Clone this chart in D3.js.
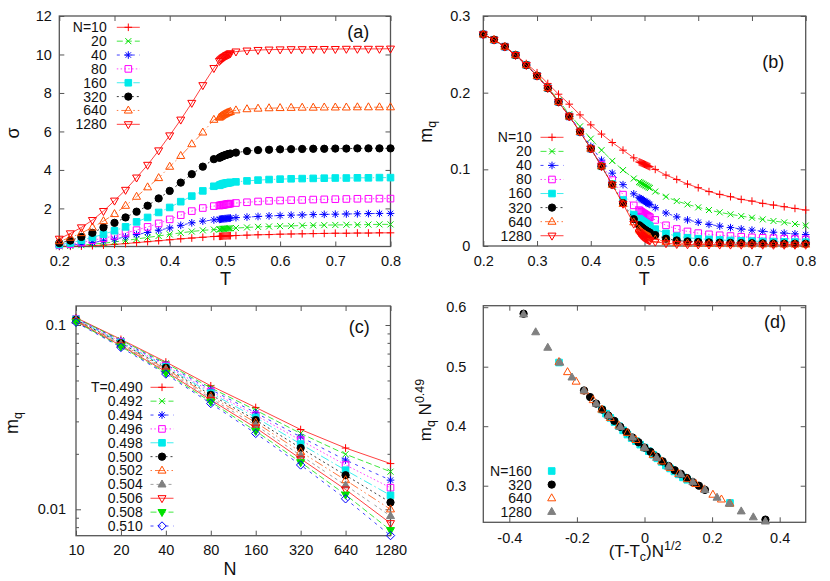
<!DOCTYPE html>
<html>
<head>
<meta charset="utf-8">
<script src="https://cdn.jsdelivr.net/npm/d3@7"></script>
<style>
  body { margin: 0; background: #fff; }
  svg { font-family: "Liberation Sans", Arial, sans-serif; }
</style>
</head>
<body>
<svg id="fig" width="830" height="581"></svg>
<script>

// ---- data ----
const sizesN = [10, 20, 40, 80, 160, 320, 640, 1280];

const tempsLow = [0.20, 0.22, 0.24, 0.26, 0.28, 0.30, 0.32, 0.34, 0.36, 0.38, 0.40, 0.42, 0.44, 0.46, 0.48];
const tempsDense = [0.490, 0.492, 0.494, 0.496, 0.498, 0.500, 0.502, 0.504, 0.506, 0.508, 0.510];
const tempsHigh = [0.52, 0.54, 0.56, 0.58, 0.60, 0.62, 0.64, 0.66, 0.68, 0.70, 0.72, 0.74, 0.76, 0.78, 0.80];

// (a) sigma, on tempsLow + tempsDense + tempsHigh
const sigma10 = [0.02,0.03,0.04,0.06,0.09,0.13,0.17,0.22,0.27,0.32,0.37,0.42,0.46,0.50,0.54, 0.55,0.55,0.56,0.56,0.57,0.57,0.57,0.58,0.58,0.58,0.58, 0.59,0.61,0.63,0.64,0.66,0.67,0.68,0.69,0.70,0.71,0.71,0.72,0.72,0.73,0.73];
const sigma20 = [0.03,0.05,0.09,0.14,0.19,0.26,0.33,0.41,0.49,0.57,0.65,0.73,0.80,0.86,0.90, 0.91,0.92,0.93,0.94,0.94,0.95,0.95,0.96,0.96,0.97,0.97, 0.98,1.01,1.04,1.06,1.08,1.09,1.11,1.12,1.13,1.14,1.15,1.15,1.16,1.17,1.17];
const sigma40 = [0.05,0.09,0.14,0.23,0.31,0.40,0.52,0.64,0.75,0.87,0.98,1.12,1.25,1.34,1.40, 1.43,1.44,1.45,1.46,1.46,1.47,1.47,1.48,1.49,1.49,1.50, 1.52,1.55,1.58,1.61,1.63,1.65,1.66,1.68,1.69,1.70,1.71,1.72,1.73,1.74,1.74];
const sigma80 = [0.09,0.14,0.23,0.35,0.45,0.57,0.73,0.87,1.04,1.22,1.43,1.65,1.86,2.02,2.12, 2.15,2.16,2.17,2.18,2.19,2.20,2.21,2.22,2.23,2.24,2.25, 2.28,2.32,2.36,2.39,2.41,2.43,2.44,2.46,2.47,2.48,2.49,2.50,2.50,2.51,2.51];
const sigma160 = [0.12,0.20,0.35,0.49,0.66,0.84,1.04,1.30,1.53,1.79,2.05,2.35,2.64,2.91,3.15, 3.20,3.23,3.25,3.27,3.29,3.30,3.31,3.32,3.33,3.34,3.35, 3.38,3.43,3.47,3.50,3.52,3.54,3.55,3.56,3.57,3.58,3.58,3.59,3.59,3.60,3.60];
const sigma320 = [0.20,0.33,0.52,0.73,1.01,1.25,1.53,1.83,2.14,2.52,2.91,3.34,3.78,4.17,4.56, 4.63,4.66,4.69,4.72,4.74,4.76,4.78,4.80,4.82,4.83,4.85, 4.90,4.98,5.03,5.05,5.07,5.08,5.09,5.10,5.10,5.11,5.11,5.12,5.12,5.12,5.12];
const sigma640 = [0.30,0.48,0.72,1.01,1.34,1.71,2.14,2.61,3.10,3.58,4.17,4.73,5.34,5.95,6.61, 6.72,6.76,6.80,6.84,6.87,6.90,6.93,6.96,6.98,7.00,7.02, 7.10,7.16,7.19,7.21,7.22,7.23,7.24,7.24,7.25,7.25,7.25,7.26,7.26,7.26,7.26];
const sigma1280 = [0.42,0.70,1.01,1.39,1.86,2.40,2.96,3.60,4.26,5.01,5.79,6.61,7.48,8.40,9.29, 9.66,9.72,9.77,9.82,9.86,9.90,9.94,9.97,10.00,10.03,10.06, 10.15,10.20,10.23,10.25,10.26,10.27,10.27,10.28,10.28,10.28,10.29,10.29,10.29,10.29,10.30];

// (b) m_q away from Tc (tempsLow / tempsHigh); near Tc taken from panel (c)
const mqLow10 = [0.276,0.269,0.260,0.249,0.238,0.226,0.212,0.198,0.185,0.171,0.158,0.146,0.135,0.125,0.115];
const mqHigh10 = [0.0999,0.0925,0.0868,0.0808,0.0760,0.0710,0.0673,0.0643,0.0608,0.0586,0.0556,0.0534,0.0512,0.0490,0.0469];
const mqLow20 = [0.276,0.269,0.260,0.249,0.236,0.223,0.207,0.190,0.172,0.156,0.140,0.125,0.111,0.099,0.088];
const mqHigh20 = [0.0710,0.0643,0.0586,0.0543,0.0504,0.0469,0.0439,0.0413,0.0390,0.0369,0.0347,0.0326,0.0308,0.0287,0.0267];
const mqLow40 = [0.276,0.269,0.260,0.249,0.236,0.222,0.206,0.188,0.170,0.151,0.130,0.112,0.095,0.080,0.068];
const mqHigh40 = [0.0500,0.0430,0.0380,0.0340,0.0310,0.0282,0.0260,0.0240,0.0222,0.0207,0.0192,0.0180,0.0168,0.0158,0.0149];
const mqLow80 = [0.276,0.269,0.260,0.249,0.236,0.222,0.206,0.188,0.169,0.149,0.127,0.106,0.086,0.067,0.053];
const mqHigh80 = [0.0340,0.0270,0.0222,0.0190,0.0168,0.0152,0.0140,0.0130,0.0121,0.0113,0.0107,0.0101,0.0096,0.0091,0.0087];
const mqLow160 = [0.276,0.269,0.260,0.249,0.236,0.222,0.206,0.188,0.169,0.149,0.127,0.104,0.081,0.060,0.041];
const mqHigh160 = [0.0220,0.0165,0.0128,0.0108,0.0095,0.0086,0.0079,0.0073,0.0068,0.0064,0.0060,0.0057,0.0054,0.0052,0.0050];
const mqLow320 = [0.276,0.269,0.260,0.249,0.236,0.222,0.206,0.188,0.169,0.149,0.127,0.104,0.080,0.056,0.035];
const mqHigh320 = [0.0143,0.0095,0.0072,0.0060,0.0052,0.0047,0.0043,0.0040,0.0038,0.0036,0.0034,0.0032,0.0031,0.0030,0.0029];
const mqLow640 = [0.276,0.269,0.260,0.249,0.236,0.222,0.206,0.188,0.169,0.149,0.127,0.104,0.080,0.055,0.031];
const mqHigh640 = [0.0085,0.0055,0.0040,0.0033,0.0030,0.0028,0.0026,0.0025,0.0024,0.0023,0.0022,0.0022,0.0021,0.0021,0.0020];
const mqLow1280 = [0.276,0.269,0.260,0.249,0.236,0.222,0.206,0.188,0.169,0.149,0.127,0.104,0.080,0.055,0.029];
const mqHigh1280 = [0.0055,0.0035,0.0025,0.0021,0.0019,0.0018,0.0017,0.0017,0.0016,0.0016,0.0016,0.0015,0.0015,0.0015,0.0015];

// (c) m_q near Tc, one array per N, on tempsDense
const mqNear10 = [0.1096,0.1090,0.1084,0.1078,0.1072,0.1066,0.1060,0.1053,0.1047,0.1040,0.1034];
const mqNear20 = [0.0836,0.0828,0.0820,0.0812,0.0804,0.0796,0.0789,0.0781,0.0773,0.0764,0.0756];
const mqNear40 = [0.0630,0.0620,0.0611,0.0602,0.0594,0.0586,0.0577,0.0568,0.0559,0.0550,0.0542];
const mqNear80 = [0.0468,0.0456,0.0446,0.0436,0.0427,0.0418,0.0409,0.0400,0.0392,0.0383,0.0375];
const mqNear160 = [0.0357,0.0345,0.0334,0.0324,0.0315,0.0305,0.0296,0.0286,0.0277,0.0266,0.0258];
const mqNear320 = [0.0271,0.0258,0.0247,0.0237,0.0226,0.0215,0.0205,0.0196,0.0188,0.0180,0.0174];
const mqNear640 = [0.0215,0.0199,0.0185,0.0174,0.0163,0.0153,0.0144,0.0135,0.0128,0.0120,0.0114];
const mqNear1280 = [0.0177,0.0160,0.0144,0.0131,0.0119,0.0109,0.0100,0.0092,0.0084,0.0077,0.0072];

// (d) scaled m_q N^0.49
const tc = 0.5;
const tempsScaling = [0.490,0.491,0.492,0.493,0.494,0.495,0.496,0.497,0.498,0.499,0.500,0.501,0.502,0.503,0.504,0.505,0.506,0.507,0.508,0.509,0.510];
const tempsScalingWide = [0.48,0.490,0.491,0.492,0.493,0.494,0.495,0.496,0.497,0.498,0.499,0.500,0.501,0.502,0.503,0.504,0.505,0.506,0.507,0.508,0.509,0.510,0.52];
const scaled160 = [0.507, 0.428,0.421,0.414,0.407,0.400,0.393,0.386,0.380,0.375,0.369,0.364,0.358,0.352,0.346,0.340,0.334,0.329,0.324,0.319,0.314,0.310, 0.271];
const scaled320 = [0.589, 0.460,0.449,0.438,0.428,0.418,0.409,0.399,0.390,0.381,0.373,0.364,0.357,0.349,0.341,0.333,0.326,0.320,0.313,0.306,0.300,0.293, 0.243];
const scaled640 = [0.508,0.491,0.475,0.459,0.444,0.428,0.414,0.401,0.389,0.377,0.364,0.352,0.341,0.330,0.320,0.311,0.303,0.294,0.285,0.277,0.270];
const scaled1280 = [0.588,0.558,0.532,0.507,0.482,0.460,0.438,0.418,0.399,0.381,0.364,0.347,0.332,0.319,0.306,0.293,0.280,0.270,0.257,0.247,0.240];

const labelsN = ['N=10', '20', '40', '80', '160', '320', '640', '1280'];
const labelsT = ['T=0.490', '0.492', '0.494', '0.496', '0.498', '0.500', '0.502', '0.504', '0.506', '0.508', '0.510'];
const labelsScaling = ['N=160', '320', '640', '1280'];

// ---- gnuplot-like line/point styles ----
const styles = [
  { color: '#ff0000', dash: null,                 marker: 'plus' },
  { color: '#00e000', dash: '6,3',                marker: 'cross' },
  { color: '#0000ff', dash: '3,4.5',              marker: 'star' },
  { color: '#ff00ff', dash: '1.5,2.3',            marker: 'square' },
  { color: '#00eaea', dash: '9,3,1.5,3',          marker: 'square', fill: true },
  { color: '#000000', dash: '2,3',                marker: 'circle', fill: true },
  { color: '#ff4d00', dash: '1.5,3,9,3,1.5,3',    marker: 'triUp' },
  { color: '#808080', dash: '3,3,3,3,3,3,3,6',    marker: 'triUp', fill: true },
  { color: '#ff0000', dash: null,                 marker: 'triDown' },
  { color: '#00e000', dash: '6,3',                marker: 'triDown', fill: true },
  { color: '#0000ff', dash: '3,4.5',              marker: 'diamond' }
];
const styleOfN = [0, 1, 2, 3, 4, 5, 6, 8];

function markerPath(kind) {
  switch (kind) {
    case 'plus': return 'M-3.8,0H3.8M0,-3.8V3.8';
    case 'cross': return 'M-3,-3L3,3M-3,3L3,-3';
    case 'star': return 'M-3.8,0H3.8M0,-3.8V3.8M-2.7,-2.7L2.7,2.7M-2.7,2.7L2.7,-2.7';
    case 'square': return 'M-3.3,-3.3H3.3V3.3H-3.3Z';
    case 'circle': return d3.symbol(d3.symbolCircle, 42)();
    case 'triUp': return 'M0,-4.4L4,2.6H-4Z';
    case 'triDown': return 'M0,4.4L4,-2.6H-4Z';
    case 'diamond': return 'M0,-4.2L4.2,0L0,4.2L-4.2,0Z';
  }
}

const svg = d3.select('#fig');
const frameColor = '#555';

function styleAxis(g) {
  g.select('.domain').remove();
  g.attr('font-size', 14.5).attr('font-family', null);
  g.selectAll('line').attr('stroke', frameColor);
  g.selectAll('text').attr('fill', '#111');
}

function drawFrame(x, y, cfg) {
  const [x0, x1] = x.range();
  const [y0, y1] = y.range();
  const g = svg.append('g');
  g.append('g').attr('transform', `translate(0,${y0})`)
    .call(d3.axisBottom(x).tickValues(cfg.xTicks).tickFormat(cfg.xFormat)
      .tickSizeInner(-5).tickSizeOuter(0).tickPadding(cfg.xPad))
    .call(styleAxis);
  g.append('g').attr('transform', `translate(0,${y1})`)
    .call(d3.axisTop(x).tickValues(cfg.xTicks).tickFormat(() => '')
      .tickSizeInner(-5).tickSizeOuter(0))
    .call(styleAxis);
  g.append('g').attr('transform', `translate(${x0},0)`)
    .call(d3.axisLeft(y).tickValues(cfg.yTicks).tickFormat(cfg.yFormat)
      .tickSizeInner(-5).tickSizeOuter(0).tickPadding(cfg.yPad))
    .call(styleAxis);
  g.append('g').attr('transform', `translate(${x1},0)`)
    .call(d3.axisRight(y).tickValues(cfg.yTicks).tickFormat(() => '')
      .tickSizeInner(-5).tickSizeOuter(0))
    .call(styleAxis);
  if (cfg.yMinor) {
    g.append('g').attr('transform', `translate(${x0},0)`)
      .call(d3.axisLeft(y).tickValues(cfg.yMinor).tickFormat(() => '').tickSizeInner(-3).tickSizeOuter(0))
      .call(styleAxis);
    g.append('g').attr('transform', `translate(${x1},0)`)
      .call(d3.axisRight(y).tickValues(cfg.yMinor).tickFormat(() => '').tickSizeInner(-3).tickSizeOuter(0))
      .call(styleAxis);
  }
  g.append('rect')
    .attr('x', x0).attr('y', y1)
    .attr('width', x1 - x0).attr('height', y0 - y1)
    .attr('fill', 'none').attr('stroke', frameColor).attr('stroke-width', 1.3);

  const id = 'clip' + cfg.name;
  svg.append('clipPath').attr('id', id)
    .append('rect').attr('x', x0).attr('y', y1).attr('width', x1 - x0).attr('height', y0 - y1);
  return id;
}

function drawSeries(pts, x, y, st, clipId, withLine) {
  const g = svg.append('g');
  if (withLine) {
    g.append('path').datum(pts)
      .attr('clip-path', `url(#${clipId})`)
      .attr('d', d3.line().x(d => x(d[0])).y(d => y(d[1])))
      .attr('fill', 'none')
      .attr('stroke', st.color)
      .attr('stroke-width', 1)
      .attr('stroke-opacity', 0.75)
      .attr('stroke-dasharray', st.dash);
  }
  g.selectAll('path.pt')
    .data(pts)
    .join('path')
    .attr('class', 'pt')
    .attr('transform', d => `translate(${x(d[0])},${y(d[1])})`)
    .attr('d', markerPath(st.marker))
    .attr('fill', st.fill ? st.color : 'none')
    .attr('stroke', st.color)
    .attr('stroke-width', 1);
}

function drawLegend(labels, styleIdx, cfg) {
  const g = svg.append('g').attr('font-size', 14);
  labels.forEach((lab, i) => {
    const yy = cfg.y0 + i * cfg.dy;
    const st = styles[styleIdx[i]];
    g.append('text').attr('x', cfg.xText).attr('y', yy).attr('dy', '0.35em')
      .attr('text-anchor', 'end').attr('fill', '#111').text(lab);
    if (cfg.line) {
      g.append('line').attr('x1', cfg.xMark - 11.5).attr('x2', cfg.xMark + 11.5)
        .attr('y1', yy).attr('y2', yy)
        .attr('stroke', st.color).attr('stroke-width', 1).attr('stroke-opacity', 0.75)
        .attr('stroke-dasharray', st.dash);
    }
    g.append('path').attr('transform', `translate(${cfg.xMark},${yy})`)
      .attr('d', markerPath(st.marker))
      .attr('fill', st.fill ? st.color : 'none')
      .attr('stroke', st.color).attr('stroke-width', 1);
  });
}

function text(x, y, parts, opts = {}) {
  const t = svg.append('text')
    .attr('transform', `translate(${x},${y})${opts.rotate ? ' rotate(-90)' : ''}`)
    .attr('text-anchor', 'middle')
    .attr('font-size', opts.size || 18)
    .attr('fill', '#111');
  let shift = 0;
  parts.forEach(p => {
    const target = p.sub ? 4 : p.sup ? -7 : 0;
    t.append('tspan')
      .attr('dy', target - shift)
      .attr('font-size', (p.sub || p.sup) ? 12.5 : null)
      .text(p.t);
    shift = target;
  });
}

const fmt1 = d => d === 0 ? '0' : d.toFixed(1);
const allTemps = tempsLow.concat(tempsDense, tempsHigh);

// ---- panel (a) ----
{
  const x = d3.scaleLinear([0.2, 0.8], [59.3, 390.5]);
  const y = d3.scaleLinear([0.02, 12], [246.5, 16]);
  const clip = drawFrame(x, y, {
    name: 'a', xTicks: [0.2, 0.3, 0.4, 0.5, 0.6, 0.7, 0.8], xFormat: fmt1, xPad: 9.2,
    yTicks: [2, 4, 6, 8, 10, 12], yFormat: d3.format('d'), yPad: 7.5
  });
  const sigmaSeries = [sigma10, sigma20, sigma40, sigma80, sigma160, sigma320, sigma640, sigma1280];
  sigmaSeries.forEach((vals, i) => {
    drawSeries(allTemps.map((t, k) => [t, vals[k]]), x, y, styles[styleOfN[i]], clip, true);
  });
  drawLegend(labelsN, styleOfN, { y0: 27.3, dy: 13.86, xText: 106.7, xMark: 128.3, line: true });
  text(225.5, 285, [{ t: 'T' }]);
  text(19, 133, [{ t: 'σ' }], { rotate: true });
  text(358.3, 38, [{ t: '(a)' }]);
}

// ---- panel (b) ----
{
  const x = d3.scaleLinear([0.2, 0.8], [483.3, 805.7]);
  const y = d3.scaleLinear([0, 0.3], [246, 16]);
  const clip = drawFrame(x, y, {
    name: 'b', xTicks: [0.2, 0.3, 0.4, 0.5, 0.6, 0.7, 0.8], xFormat: fmt1, xPad: 9.5,
    yTicks: [0, 0.1, 0.2, 0.3], yFormat: fmt1, yPad: 13
  });
  const lowSeries = [mqLow10, mqLow20, mqLow40, mqLow80, mqLow160, mqLow320, mqLow640, mqLow1280];
  const nearSeries = [mqNear10, mqNear20, mqNear40, mqNear80, mqNear160, mqNear320, mqNear640, mqNear1280];
  const highSeries = [mqHigh10, mqHigh20, mqHigh40, mqHigh80, mqHigh160, mqHigh320, mqHigh640, mqHigh1280];
  lowSeries.forEach((low, i) => {
    const vals = low.concat(nearSeries[i], highSeries[i]);
    drawSeries(allTemps.map((t, k) => [t, vals[k]]), x, y, styles[styleOfN[i]], clip, true);
  });
  drawLegend(labelsN, styleOfN, { y0: 137.3, dy: 14.06, xText: 531.7, xMark: 552, line: true });
  text(644.3, 285, [{ t: 'T' }]);
  text(432, 131.7, [{ t: 'm' }, { t: 'q', sub: true }], { rotate: true });
  text(773.3, 68, [{ t: '(b)' }]);
}

// ---- panel (c) ----
{
  const x = d3.scaleLog().base(2).domain([10, 1280]).range([76, 390.5]);
  const y = d3.scaleLog().domain([0.00719, 0.1268]).range([535.7, 306]);
  const clip = drawFrame(x, y, {
    name: 'c', xTicks: sizesN, xFormat: d3.format('d'), xPad: 9.5,
    yTicks: [0.01, 0.1], yFormat: d => d === 0.1 ? '0.1' : '0.01', yPad: 10,
    yMinor: [0.008, 0.009, 0.02, 0.03, 0.04, 0.05, 0.06, 0.07, 0.08, 0.09]
  });
  const nearSeries = [mqNear10, mqNear20, mqNear40, mqNear80, mqNear160, mqNear320, mqNear640, mqNear1280];
  tempsDense.forEach((t, j) => {
    drawSeries(sizesN.map((n, i) => [n, nearSeries[i][j]]), x, y, styles[j], clip, true);
  });
  drawLegend(labelsT, d3.range(11), { y0: 387.3, dy: 13.87, xText: 142.7, xMark: 162, line: true });
  text(230, 574.5, [{ t: 'N' }]);
  text(18, 423, [{ t: 'm' }, { t: 'q', sub: true }], { rotate: true });
  text(359.3, 333, [{ t: '(c)' }]);
}

// ---- panel (d) ----
{
  const x = d3.scaleLinear([-0.477, 0.477], [483.3, 805.7]);
  const y = d3.scaleLinear([0.2385, 0.6025], [522.3, 305.7]);
  const clip = drawFrame(x, y, {
    name: 'd', xTicks: [-0.4, -0.2, 0, 0.2, 0.4], xFormat: fmt1, xPad: 10.5,
    yTicks: [0.3, 0.4, 0.5, 0.6], yFormat: fmt1, yPad: 17
  });
  const scalingSets = [
    { n: 160, temps: tempsScalingWide, vals: scaled160, style: 4 },
    { n: 320, temps: tempsScalingWide, vals: scaled320, style: 5 },
    { n: 640, temps: tempsScaling, vals: scaled640, style: 6 },
    { n: 1280, temps: tempsScaling, vals: scaled1280, style: 7 }
  ];
  scalingSets.forEach(s => {
    const pts = s.temps.map((t, k) => [(t - tc) * Math.sqrt(s.n), s.vals[k]]);
    drawSeries(pts, x, y, styles[s.style], clip, false);
  });
  drawLegend(labelsScaling, [4, 5, 6, 7], { y0: 471, dy: 13.6, xText: 531.7, xMark: 551.7, line: false });
  text(645, 557, [{ t: '(T-T' }, { t: 'c', sub: true }, { t: ')N' }, { t: '1/2', sup: true }], { size: 17 });
  text(431, 410, [{ t: 'm' }, { t: 'q', sub: true }, { t: ' N' }, { t: '0.49', sup: true }], { rotate: true, size: 17 });
  text(775, 328, [{ t: '(d)' }]);
}
</script>
</body>
</html>
